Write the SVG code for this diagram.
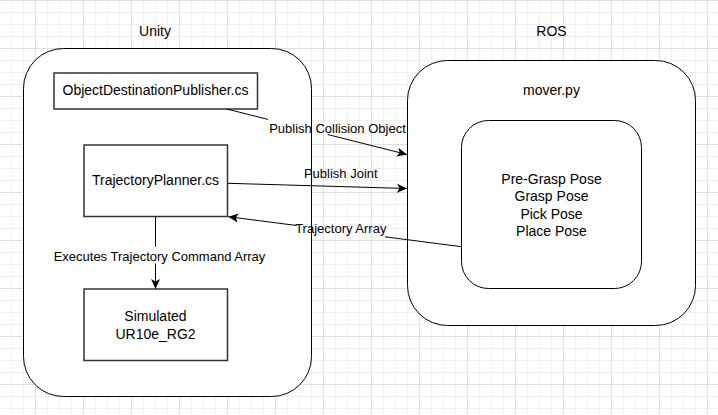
<svg xmlns="http://www.w3.org/2000/svg" width="718" height="415" viewBox="0 0 718 415">
<style>
.box{fill:#fff;stroke:#000;stroke-width:1}
.sq{fill:#fff;stroke:#333;stroke-width:1.5}
.t{font-family:"Liberation Sans",Arial,sans-serif;font-size:14px;fill:#000;text-anchor:middle}
.lbl{font-family:"Liberation Sans",Arial,sans-serif;font-size:13px;fill:#000;text-anchor:middle}
.edge{fill:none;stroke:#000;stroke-width:1}
</style>
<defs>
<pattern id="minor" patternUnits="userSpaceOnUse" x="0" y="0" width="12" height="12">
<path d="M11.5,0 V12 M0,0.5 H12" fill="none" stroke="#f0f0f0" stroke-width="1"/>
</pattern>
<pattern id="major" patternUnits="userSpaceOnUse" x="0" y="0" width="48" height="48">
<path d="M35.5,0 V48 M0,0.5 H48" fill="none" stroke="#e0e0e0" stroke-width="1"/>
</pattern>
<marker id="arr" markerUnits="userSpaceOnUse" markerWidth="11" markerHeight="11" refX="10" refY="5" orient="auto" viewBox="0 0 11 10">
<path d="M0,0.5 L10,5 L0,9.5 L2.5,5 z" fill="#000"/>
</marker>
</defs>
<rect width="718" height="415" fill="#fff"/>
<rect width="718" height="415" fill="url(#minor)"/>
<rect width="718" height="415" fill="url(#major)"/>

<g id="unity">
<rect class="box" x="23.5" y="48.5" width="288" height="348" rx="40" ry="40"/>
<text class="t" x="155" y="36">Unity</text>
</g>
<g id="ros">
<rect class="box" x="407.5" y="60.5" width="288" height="265" rx="40" ry="40"/>
<text class="t" x="551.5" y="36">ROS</text>
<text class="t" x="551.5" y="95">mover.py</text>
</g>
<g id="poses">
<rect class="box" x="461.5" y="120.5" width="180" height="168" rx="27" ry="27"/>
<text class="t" x="551.5" y="184">Pre-Grasp Pose</text>
<text class="t" x="551.5" y="201.3">Grasp Pose</text>
<text class="t" x="551.5" y="218.6">Pick Pose</text>
<text class="t" x="551.5" y="236">Place Pose</text>
</g>
<g id="objectDestinationPublisher">
<rect class="sq" x="54" y="73" width="203.5" height="36"/>
<text class="t" x="155.5" y="95">ObjectDestinationPublisher.cs</text>
</g>
<g id="trajectoryPlanner">
<rect class="sq" x="84" y="145" width="143.5" height="71.5"/>
<text class="t" x="155.5" y="185">TrajectoryPlanner.cs</text>
</g>
<g id="simulated">
<rect class="sq" x="84" y="289" width="143.5" height="71.5"/>
<text class="t" x="155.5" y="321">Simulated</text>
<text class="t" x="155.5" y="339">UR10e_RG2</text>
</g>

<g id="connectors">
<path class="edge" d="M226.7,109 L268,119.4"/>
<path class="edge" d="M327.7,134.5 L407,154.5" marker-end="url(#arr)"/>
<text class="lbl" x="337.5" y="133">Publish Collision Object</text>

<path class="edge" d="M228,183.3 L407,188.5" marker-end="url(#arr)"/>
<text class="lbl" x="340.8" y="178">Publish Joint</text>

<path class="edge" d="M461.5,246.7 L385,236.8"/>
<path class="edge" d="M296.7,225.5 L228.3,216.7" marker-end="url(#arr)"/>
<text class="lbl" x="340.8" y="233">Trajectory Array</text>

<path class="edge" d="M155.5,216.5 V246.7"/>
<path class="edge" d="M155.5,263.5 V289" marker-end="url(#arr)"/>
<text class="lbl" x="159.5" y="260.7">Executes Trajectory Command Array</text>
</g>
</svg>
